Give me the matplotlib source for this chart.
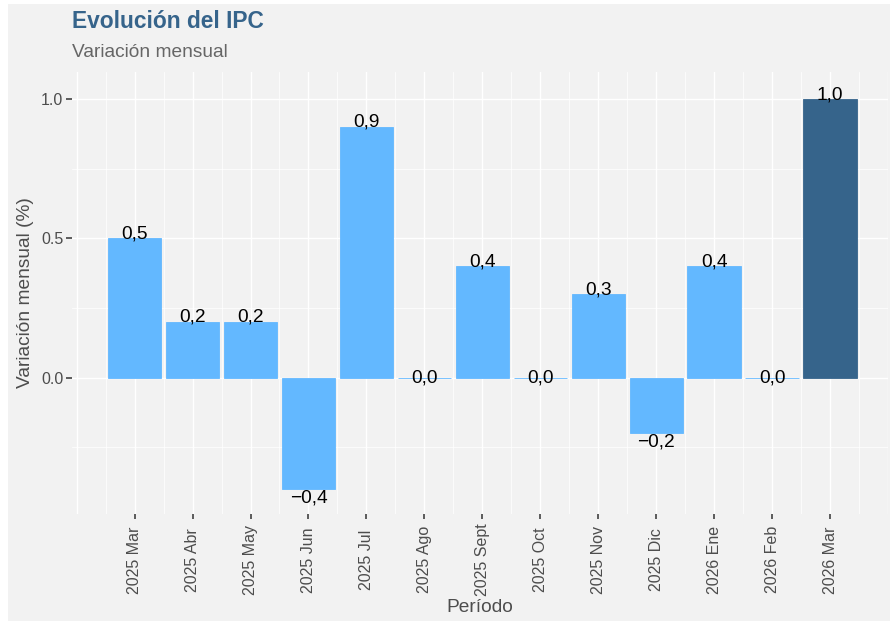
import matplotlib
matplotlib.use("Agg")
import matplotlib.pyplot as plt
from matplotlib.patches import Rectangle
import numpy as np

plt.rcParams['font.family'] = ['Liberation Sans', 'DejaVu Sans']

# ---- data ----
categories = ["2025 Mar", "2025 Abr", "2025 May", "2025 Jun", "2025 Jul", "2025 Ago",
              "2025 Sept", "2025 Oct", "2025 Nov", "2025 Dic", "2026 Ene", "2026 Feb",
              "2026 Mar"]
values = [0.5, 0.2, 0.2, -0.4, 0.9, 0.0, 0.4, 0.0, 0.3, -0.2, 0.4, 0.0, 1.0]
y_ticks = [0.0, 0.5, 1.0]
y_tick_labels = ["0.0", "0.5", "1.0"]
y_minor = [-0.25, 0.25, 0.75]

title = "Evolución del IPC"
subtitle = "Variación mensual"
xlabel = "Período"
ylabel = "Variación mensual (%)"

# ---- style ----
BG = "#f2f2f2"
LIGHT = "#63B8FF"
DARK = "#36648B"
TXT = "#4d4d4d"

W, H = 892, 623
fig = plt.figure(figsize=(W / 100, H / 100), dpi=100)
fig.patch.set_facecolor("white")
fig.add_artist(Rectangle((8 / W, 2 / H), (890 - 8) / W, (619 - 2) / H,
                         transform=fig.transFigure, facecolor=BG, edgecolor="none", zorder=-10))

left, right, top, bottom = 72, 888, 72, 514
ax = fig.add_axes([left / W, 1 - bottom / H, (right - left) / W, (bottom - top) / H])
ax.set_facecolor(BG)
for s in ax.spines.values():
    s.set_visible(False)

x = np.arange(len(categories))
colors = [LIGHT] * (len(values) - 1) + [DARK]
ax.bar(x, values, width=0.92, color=colors, edgecolor=colors, linewidth=0.6, zorder=3)

ax.set_xlim(-1.08, 13.0)
ax.set_ylim(-0.489, 1.097)

# grid
for gx in np.arange(-1, 13.01, 1.0):
    ax.axvline(gx, color="white", lw=1.0, zorder=1)
for gx in np.arange(-0.5, 13.01, 1.0):
    ax.axvline(gx, color="white", lw=0.55, zorder=1)
for gy in y_ticks:
    ax.axhline(gy, color="white", lw=1.0, zorder=1)
for gy in y_minor:
    ax.axhline(gy, color="white", lw=0.55, zorder=1)

# ticks
ax.set_yticks(y_ticks)
ax.set_yticklabels(y_tick_labels, fontsize=11.5, color=TXT)
ax.set_xticks(x)
ax.set_xticklabels(categories, rotation=90, fontsize=11.5, color=TXT, ha="center", va="center")
ax.tick_params(axis="y", length=4, width=1.1, color="#333333", pad=2.2)
ax.tick_params(axis="x", length=3.5, width=1.1, color="#333333", pad=29.5)

# bar labels
for xi, v in zip(x, values):
    lab = f"{abs(v):.1f}".replace(".", ",")
    if v < 0:
        lab = "\u2212" + lab
        va = "top"
    elif v > 0:
        va = "baseline"
    else:
        va = "center"
    ax.text(xi, v, lab, ha="center", va=va, fontsize=13.8, color="black", zorder=5)

# titles
fig.text(72 / W, 1 - 28 / H, title, fontsize=16.4, fontweight="bold", color=DARK,
         ha="left", va="baseline")
fig.text(72 / W, 1 - 57 / H, subtitle, fontsize=13.8, color="#666666",
         ha="left", va="baseline")
fig.text(480 / W, 1 - 607 / H, xlabel, fontsize=13.8, color=TXT, ha="center", va="center")
fig.text(26 / W, 1 - 293 / H, ylabel, fontsize=13.8, color=TXT, ha="center", va="center",
         rotation=90)

fig.savefig("out.png", dpi=100, facecolor=fig.get_facecolor())
